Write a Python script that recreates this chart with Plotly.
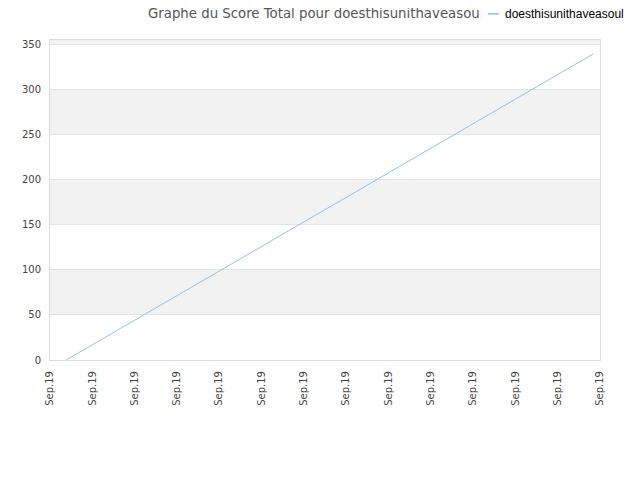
import plotly.graph_objects as go

x_labels = ["Sep.19"] * 14
line_x = [0.38, 12.84]
line_y = [0, 340]
series_name = "doesthisunithaveasoul"
title_text = "Graphe du Score Total pour doesthisunithaveasoul"
y_ticks = [0, 50, 100, 150, 200, 250, 300, 350]
y_max = 355.5

OFF = 8  # page body margin

def px(xs):
    return (xs - 50) / 550

def py(ys):
    return (360 - ys) / 320

fig = go.Figure()
fig.add_trace(go.Scatter(x=line_x, y=line_y, mode="lines", name=series_name,
                         line=dict(color="#90c4f4", width=1), showlegend=False))

shapes = []
for b in y_ticks[1::2]:
    shapes.append(dict(type="rect", xref="paper", yref="y", x0=0, x1=1, y0=b,
                       y1=min(b + 50, y_max), fillcolor="#f2f2f2", line_width=0, layer="below"))

W, H = 640 - OFF, 480 - OFF
fig.update_layout(
    width=W, height=H,
    margin=dict(l=50 - OFF, r=40, t=40 - OFF, b=120),
    paper_bgcolor="white", plot_bgcolor="white",
    title=dict(text=title_text, x=px(148), xref="paper", xanchor="left",
               y=1 - (13 - OFF) / H, yref="container", yanchor="middle",
               font=dict(family="DejaVu Sans", size=13.3, color="#555555")),
    shapes=shapes,
    xaxis=dict(range=[0, 13], tickmode="array", tickvals=list(range(14)), ticktext=x_labels,
               tickangle=-90, showgrid=False, zeroline=False, showline=True, linecolor="#dddddd",
               mirror=True, ticks="", ticklabelstandoff=6,
               tickfont=dict(family="DejaVu Sans", size=10, color="#444444")),
    yaxis=dict(range=[0, y_max], tickvals=y_ticks, showgrid=True, gridcolor="#e4e4e4",
               zeroline=False, showline=True, linecolor="#dddddd", mirror=True, ticks="",
               ticklabelstandoff=6,
               tickfont=dict(family="DejaVu Sans", size=10, color="#444444")),
    showlegend=False,
)
# legend imitation (white box hides the title overflow, as in the reference)
fig.add_annotation(x=px(480), y=py(13.5), xref="paper", yref="paper",
                   text="━━", showarrow=False, xanchor="left", yanchor="middle",
                   width=24, height=22, align="center", bgcolor="white", borderpad=0,
                   font=dict(family="DejaVu Sans Mono", size=9, color="#90c4f4"))
fig.add_annotation(x=px(504), y=py(13.5), xref="paper", yref="paper",
                   text=series_name, showarrow=False, xanchor="left", yanchor="middle",
                   bgcolor="white", borderpad=0,
                   font=dict(family="Liberation Sans", size=12, color="#000000"))
fig.write_html("out.html")
